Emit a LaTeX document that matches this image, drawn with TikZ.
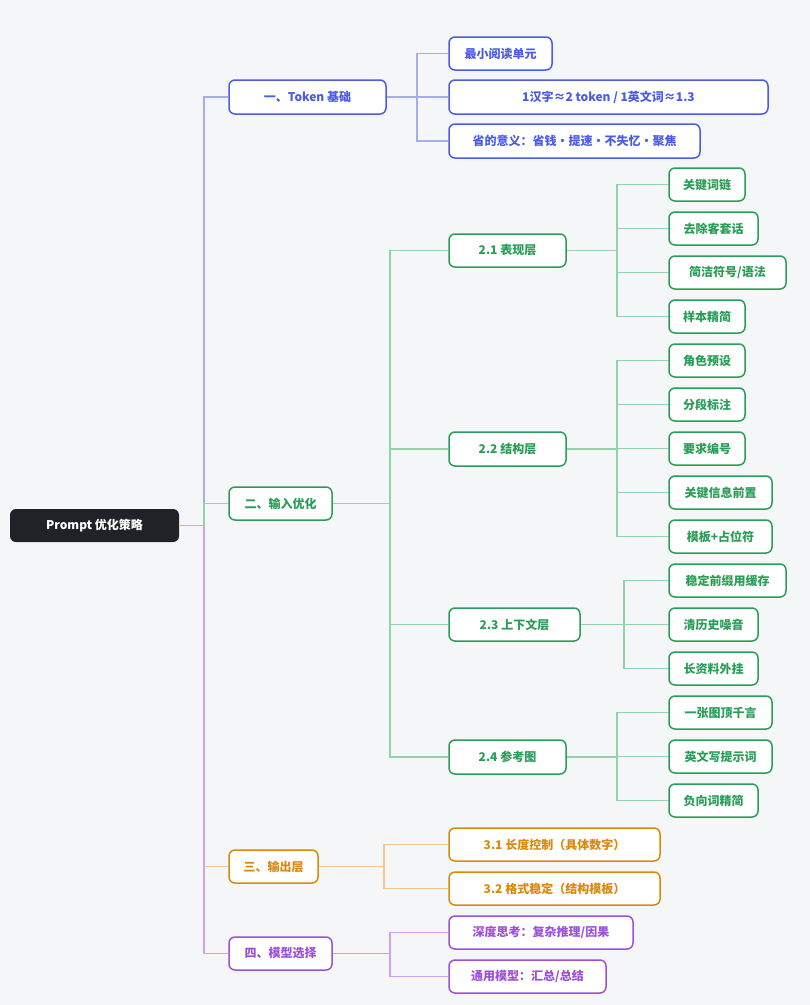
\documentclass[tikz,border=0pt]{standalone}
\usepackage{fontspec}
\setmainfont{Noto Sans CJK SC}
\begin{document}
\definecolor{cb}{HTML}{4B5BE6}\definecolor{lb}{HTML}{A5ADF2}
\definecolor{cg}{HTML}{2A9D58}\definecolor{lg}{HTML}{93D3AB}
\definecolor{co}{HTML}{D98A0E}\definecolor{lo}{HTML}{F0C88E}
\definecolor{cp}{HTML}{9B51D8}\definecolor{lp}{HTML}{CBA3EF}
\definecolor{bg}{HTML}{F5F6F8}\definecolor{dk}{HTML}{1F2328}
\newcommand{\nd}[7]{\node[box,#2,minimum width={#4pt-#3pt},minimum height={#6pt-#5pt}] (#1) at ({(#3+#4)/2},{-(#5+#6)/2}) {#7};}
\begin{tikzpicture}[x=1pt,y=1pt,
 box/.style={draw,fill=white,rounded corners=6pt,line width=1.5pt,inner sep=0pt,font=\bfseries\fontsize{12}{14}\selectfont},
 B/.style={draw=cb,text=cb},G/.style={draw=cg,text=cg},O/.style={draw=co,text=co},P/.style={draw=cp,text=cp},
 lnB/.style={draw=lb,line width=1.2pt},lnG/.style={draw=lg,line width=1.2pt},lnO/.style={draw=lo,line width=1.2pt},lnP/.style={draw=lp,line width=1.2pt}]
\fill[bg] (0,0) rectangle (810,-1005);
\useasboundingbox (0,0) rectangle (810,-1005);
\coordinate (j0) at (204,0);\coordinate (j1) at (417,0);\coordinate (j2) at (390,0);
\coordinate (j21) at (617,0);\coordinate (j23) at (624,0);\coordinate (j3) at (384,0);
\node[box,draw=none,fill=dk,text=white,minimum width=169pt,minimum height=33pt] (root) at (94.5,-525.5) {Prompt 优化策略};
\nd{a}{B}{229}{386}{80}{114}{一、Token 基础}
\nd{a1}{B}{449}{552}{37}{70}{最小阅读单元}
\nd{a2}{B}{449}{768}{80}{114}{1汉字≈2 token / 1英文词≈1.3}
\nd{a3}{B}{449}{700}{124}{158}{省的意义：省钱·提速·不失忆·聚焦}
\nd{b}{G}{229}{332}{487}{520}{二、输入优化}
\nd{b1}{G}{449}{566}{234}{267}{2.1 表现层}
\nd{b2}{G}{449}{566}{432}{466}{2.2 结构层}
\nd{b3}{G}{449}{580}{608}{641}{2.3 上下文层}
\nd{b4}{G}{449}{566}{740}{774}{2.4 参考图}
\nd{c1}{G}{669}{745}{168}{201}{关键词链}
\nd{c2}{G}{669}{758}{212}{245}{去除客套话}
\nd{c3}{G}{669}{786}{256}{289}{简洁符号/语法}
\nd{c4}{G}{669}{745}{300}{333}{样本精简}
\nd{d1}{G}{669}{745}{344}{377}{角色预设}
\nd{d2}{G}{669}{745}{388}{421}{分段标注}
\nd{d3}{G}{669}{745}{432}{465}{要求编号}
\nd{d4}{G}{669}{772}{476}{509}{关键信息前置}
\nd{d5}{G}{669}{772}{520}{553}{模板+占位符}
\nd{e1}{G}{669}{786}{564}{597}{稳定前缀用缓存}
\nd{e2}{G}{669}{758}{608}{641}{清历史噪音}
\nd{e3}{G}{669}{758}{652}{685}{长资料外挂}
\nd{f1}{G}{669}{772}{696}{729}{一张图顶千言}
\nd{f2}{G}{669}{772}{740}{773}{英文写提示词}
\nd{f3}{G}{669}{758}{784}{817}{负向词精简}
\nd{g}{O}{229}{318}{850}{883}{三、输出层}
\nd{g1}{O}{449}{660}{828}{861}{3.1 长度控制（具体数字）}
\nd{g2}{O}{449}{660}{872}{905}{3.2 格式稳定（结构模板）}
\nd{h}{P}{229}{332}{937}{970}{四、模型选择}
\nd{h1}{P}{449}{633}{916}{949}{深度思考：复杂推理/因果}
\nd{h2}{P}{449}{606}{960}{993}{通用模型：汇总/总结}
\path[lnB] (root.east) -- (root.east -| j0) |- (a.west);
\path[lnG] (root.east) -- (root.east -| j0) |- (b.west);
\path[lnO] (root.east) -- (root.east -| j0) |- (g.west);
\path[lnP] (root.east) -- (root.east -| j0) |- (h.west);
\foreach \c in {a1,a2,a3}{\path[lnB] (a.east) -- (a.east -| j1) |- (\c.west);}
\foreach \c in {b1,b2,b3,b4}{\path[lnG] (b.east) -- (b.east -| j2) |- (\c.west);}
\foreach \c in {c1,c2,c3,c4}{\path[lnG] (b1.east) -- (b1.east -| j21) |- (\c.west);}
\foreach \c in {d1,d2,d3,d4,d5}{\path[lnG] (b2.east) -- (b2.east -| j21) |- (\c.west);}
\foreach \c in {e1,e2,e3}{\path[lnG] (b3.east) -- (b3.east -| j23) |- (\c.west);}
\foreach \c in {f1,f2,f3}{\path[lnG] (b4.east) -- (b4.east -| j21) |- (\c.west);}
\foreach \c in {g1,g2}{\path[lnO] (g.east) -- (g.east -| j3) |- (\c.west);}
\foreach \c in {h1,h2}{\path[lnP] (h.east) -- (h.east -| j2) |- (\c.west);}
\end{tikzpicture}
\end{document}
